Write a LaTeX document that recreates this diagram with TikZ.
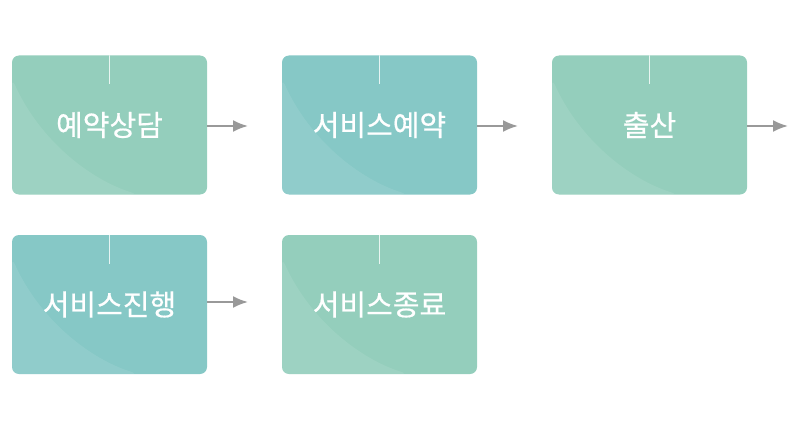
\documentclass[tikz,border=0pt]{standalone}
\usepackage{fontspec}
\newfontfamily\kr[FakeBold=0.6]{Noto Sans CJK KR}
\usetikzlibrary{arrows.meta}
\definecolor{mint}{HTML}{94CEBC}
\definecolor{aqua}{HTML}{86C8C6}
\definecolor{arrowgray}{HTML}{999999}
\tikzset{
  stepbox/.style={rectangle, rounded corners=7pt, minimum width=195pt,
    minimum height=139pt, inner sep=0pt, text=white,
    font=\kr\fontsize{29}{33}\selectfont,
    path picture={
      \fill[white, opacity=0.09] ([yshift=-23pt]path picture bounding box.north west)
        .. controls +(28pt,-62pt) and +(-48pt,15pt) ..
        ([xshift=126pt]path picture bounding box.south west)
        -- (path picture bounding box.south west) -- cycle;
      \draw[white, opacity=0.8, line width=0.8pt] (path picture bounding box.north) -- ++(0,-29pt);
    }}
}

\begin{document}
\begin{tikzpicture}[x=1pt,y=1pt]
\tikzstyle{flow}=[draw=arrowgray, line width=2pt, -{Latex[length=15pt,width=12pt]}]
\useasboundingbox (0,0) rectangle (800,-441);
% first row
\node[stepbox, fill=mint] (consult) at (109.5,-125) {예약상담};
\node[stepbox, fill=aqua] (booking) at (379.5,-125) {서비스예약};
\node[stepbox, fill=mint] (birth) at (649.5,-125) {출산};
% second row
\node[stepbox, fill=aqua] (service) at (109.5,-304.5) {서비스진행};
\node[stepbox, fill=mint] (finish) at (379.5,-304.5) {서비스종료};
\coordinate (a1) at (248,-126);
\coordinate (a2) at (518,-126);
\coordinate (a3) at (788,-126);
\coordinate (a4) at (248,-302);
\draw[flow] (consult.east |- a1) -- (a1);
\draw[flow] (booking.east |- a2) -- (a2);
\draw[flow] (birth.east |- a3) -- (a3);
\draw[flow] (service.east |- a4) -- (a4);
\end{tikzpicture}
\end{document}
